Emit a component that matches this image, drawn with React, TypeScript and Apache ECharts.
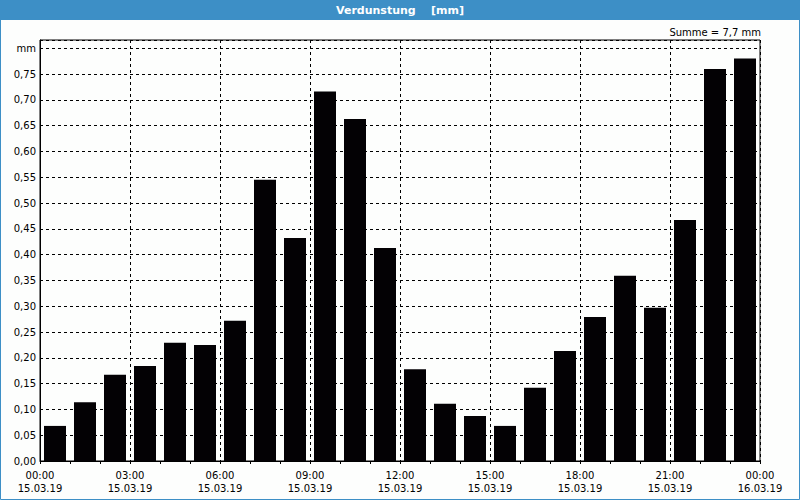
import React, { useEffect, useRef } from "react";
import * as echarts from "echarts";

const hourValues = [
  0.068, 0.114, 0.167, 0.184, 0.229, 0.225, 0.272, 0.545, 0.432, 0.716, 0.663, 0.413,
  0.178, 0.111, 0.087, 0.068, 0.142, 0.213, 0.279, 0.359, 0.297, 0.467, 0.760, 0.780,
];
const timeLabels = ["00:00", "03:00", "06:00", "09:00", "12:00", "15:00", "18:00", "21:00", "00:00"];
const dateLabels = ["15.03.19", "15.03.19", "15.03.19", "15.03.19", "15.03.19", "15.03.19", "15.03.19", "15.03.19", "16.03.19"];
const titleText = "Verdunstung    [mm]";
const sumText = "Summe = 7,7 mm";
const unitLabel = "mm";

export default function App() {
  const ref = useRef<HTMLDivElement>(null);
  useEffect(() => {
    if (!ref.current) return;
    const chart = echarts.init(ref.current, null, { renderer: "svg" });
    const font = "DejaVu Sans";
    chart.setOption({
      animation: false,
      backgroundColor: "#fdfefd",
      graphic: [
        { type: "rect", shape: { x: 0, y: 0, width: 800, height: 20 }, style: { fill: "#3d8fc6" }, silent: true },
        { type: "rect", shape: { x: 0.5, y: 0.5, width: 799, height: 499 }, style: { fill: "none", stroke: "#3d8fc6", lineWidth: 1 }, silent: true },
        {
          type: "text", x: 400, y: 10,
          style: { text: titleText, fill: "#ffffff", font: `bold 11px "${font}"`, align: "center", verticalAlign: "middle" },
        },
        {
          type: "text", x: 761, y: 32,
          style: { text: sumText, fill: "#000000", font: `10px "${font}"`, align: "right", verticalAlign: "middle" },
        },
      ],
      grid: { left: 40, right: 40, top: 40, bottom: 39, show: true, borderColor: "#000", borderWidth: 1, backgroundColor: "transparent" },
      xAxis: {
        type: "value", min: 0, max: 24, interval: 3,
        axisLine: { show: true, onZero: false, lineStyle: { color: "#000", width: 1 } },
        axisTick: { show: true, length: 3, lineStyle: { color: "#000" } },
        minorTick: { show: true, splitNumber: 3, length: 3, lineStyle: { color: "#000" } },
        splitLine: { show: true, lineStyle: { color: "#000", type: [3, 3], width: 1 } },
        axisLabel: {
          color: "#000", fontFamily: font, fontSize: 10, margin: 8, lineHeight: 13,
          formatter: (v: number) => {
            const i = Math.round(v / 3);
            return `${timeLabels[i]}\n${dateLabels[i]}`;
          },
        },
      },
      yAxis: {
        type: "value", min: 0, max: 0.816, interval: 0.05,
        axisLine: { show: true, lineStyle: { color: "#000", width: 1 } },
        axisTick: { show: false },
        splitLine: { show: true, lineStyle: { color: "#000", type: [3, 3], width: 1 } },
        axisLabel: {
          color: "#000", fontFamily: font, fontSize: 10, margin: 4, showMaxLabel: false,
          formatter: (v: number) => (Math.abs(v - 0.8) < 1e-6 ? unitLabel : v.toFixed(2).replace(".", ",")),
        },
      },
      series: [
        {
          type: "bar",
          data: hourValues.map((v, i) => [i + 0.5, v]),
          barWidth: 22,
          itemStyle: { color: "#030104" },
        },
      ],
    });
    return () => chart.dispose();
  }, []);
  return <div ref={ref} style={{ position: "absolute", left: 0, top: 0, width: 800, height: 500 }} />;
}
